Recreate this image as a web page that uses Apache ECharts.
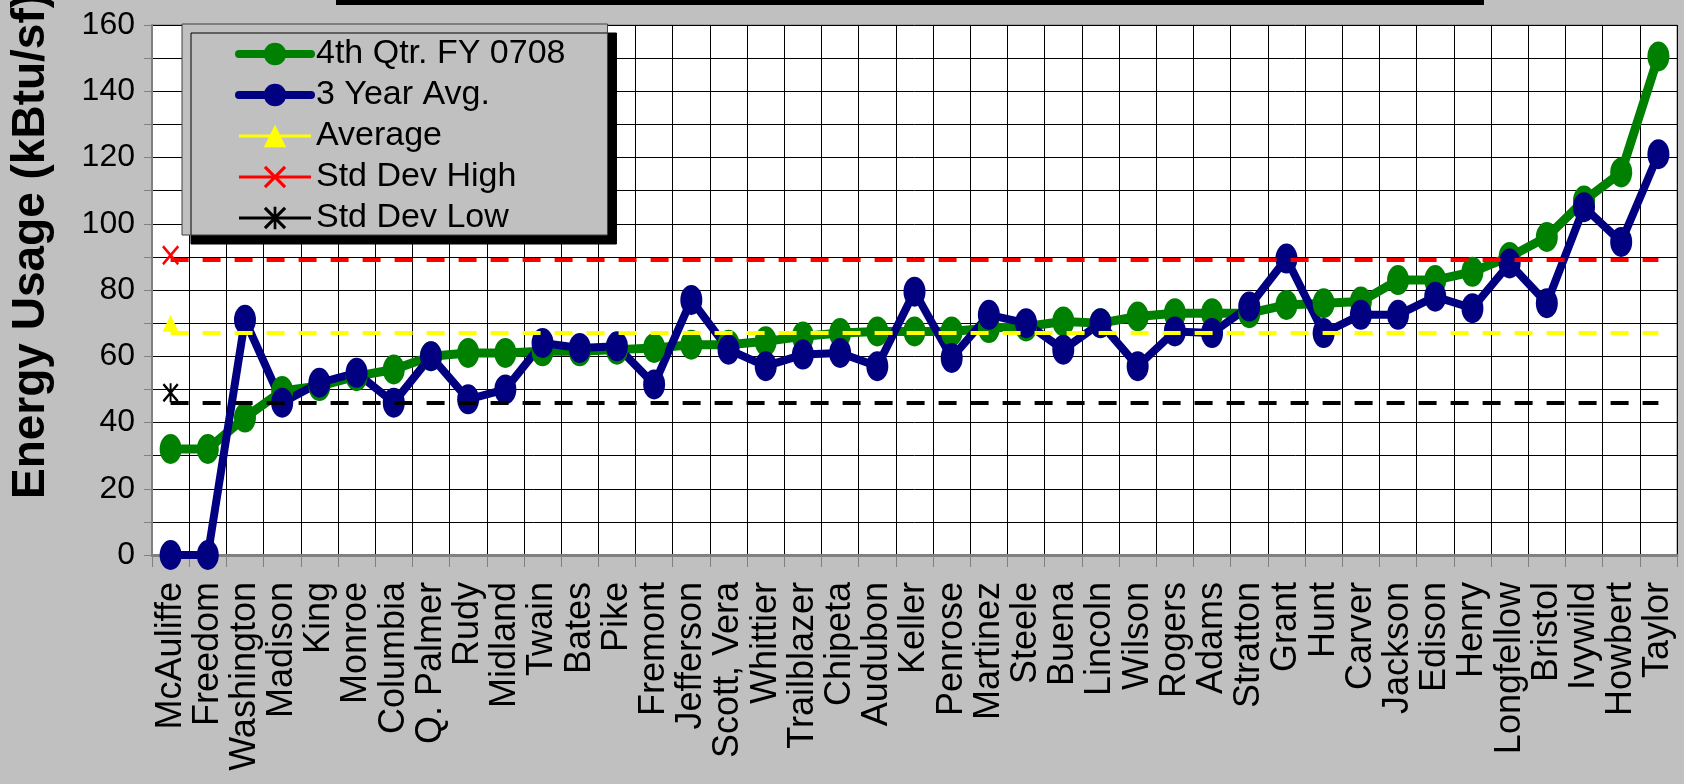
<!DOCTYPE html>
<html>
<head>
<meta charset="utf-8">
<script src="https://cdn.jsdelivr.net/npm/echarts@6/dist/echarts.min.js"></script>
<style>
  html, body { margin: 0; padding: 0; background: #c0c0c0; }
  #chartLine { width: 1684px; height: 784px; }
</style>
</head>
<body>
<div id="chartLine"></div>
<script>
// schools, sorted by this quarter's usage
const schools = ["McAuliffe", "Freedom", "Washington", "Madison", "King", "Monroe", "Columbia", "Q. Palmer", "Rudy", "Midland",
  "Twain", "Bates", "Pike", "Fremont", "Jefferson", "Scott, Vera", "Whittier", "Trailblazer", "Chipeta", "Audubon",
  "Keller", "Penrose", "Martinez", "Steele", "Buena", "Lincoln", "Wilson", "Rogers", "Adams", "Stratton",
  "Grant", "Hunt", "Carver", "Jackson", "Edison", "Henry", "Longfellow", "Bristol", "Ivywild", "Howbert", "Taylor"];

const qtrUsage = [32, 32, 41.5, 49.5, 51, 54, 56, 60, 61, 61,
  61.5, 61.5, 62, 62.5, 63.5, 63.5, 64.5, 66, 67, 67.5,
  67.5, 67.5, 68.5, 69, 70.5, 70, 72, 73, 73, 73,
  75.5, 76, 76.5, 83, 83, 85.5, 90, 96, 107, 115.5, 150.5];

const threeYearAvg = [0, 0, 71, 46, 52, 55, 46, 60, 47, 50,
  64, 62.5, 63, 51.5, 77, 62, 57, 60.5, 61, 57,
  79.5, 59.5, 72.5, 70, 62, 70, 57, 67.5, 67, 75,
  89.5, 67, 72.5, 72.5, 78, 74.5, 88, 76, 105, 94.5, 121];

// reference levels and the single marker drawn at the first school
const avgLevel = 67, highLevel = 89, lowLevel = 46;
const avgMarker = [70];
const highMarker = [90.5];
const lowMarker = [49];

const yTicks = [0, 20, 40, 60, 80, 100, 120, 140, 160];

const sans = "'Liberation Sans', Arial, sans-serif";
const ellipse = "path://M0,15 A11,15 0 1,1 22,15 A11,15 0 1,1 0,15 Z";
const cross = "path://M0,1 L1,0 L5,4 L9,0 L10,1 L6,5 L10,9 L9,10 L5,6 L1,10 L0,9 L4,5 Z";
const star = "path://M0,1 L1,0 L5,4 L9,0 L10,1 L6,5 L10,9 L9,10 L5,6 L1,10 L0,9 L4,5 Z M4.4,0 L5.6,0 L5.6,10 L4.4,10 Z";

function refLine(color, level, endIdx) {
  return {
    silent: true,
    symbol: "none",
    label: {show: false},
    lineStyle: {color: color, width: 4, type: [18, 14]},
    data: [[{coord: [0, level]}, {coord: [endIdx, level]}]]
  };
}

const chart = echarts.init(document.getElementById("chartLine"));
chart.setOption({
  animation: false,
  backgroundColor: "#c0c0c0",
  grid: {
    left: 152,
    right: 7,
    top: 25,
    bottom: 229,
    show: true,
    backgroundColor: "#fff",
    borderColor: "#808080",
    borderWidth: 1
  },
  legend: {
    orient: "vertical",
    left: 182,
    top: 24,
    padding: [13, 42, 0, 53],
    itemGap: 7,
    itemWidth: 72,
    itemHeight: 28,
    selectedMode: false,
    backgroundColor: "#c0c0c0",
    borderColor: "#404040",
    borderWidth: 1,
    shadowColor: "#000",
    shadowBlur: 0,
    shadowOffsetX: 9,
    shadowOffsetY: 9,
    textStyle: {fontSize: 34, fontFamily: sans, color: "#000"},
    data: [
      {name: "4th Qtr. FY 0708", lineStyle: {width: 8, cap: "round"}},
      {name: "3 Year Avg.", lineStyle: {width: 8, cap: "round"}},
      {name: "Average", lineStyle: {width: 3}},
      {name: "Std Dev High", lineStyle: {width: 3}},
      {name: "Std Dev Low", lineStyle: {width: 3}}
    ]
  },
  xAxis: {
    type: "category",
    data: schools,
    boundaryGap: true,
    axisLine: {lineStyle: {color: "#808080", width: 3}},
    axisTick: {show: true, interval: 0, length: 12, lineStyle: {color: "#808080"}},
    axisLabel: {interval: 0, rotate: 90, fontSize: 36, fontFamily: sans, color: "#000", margin: 27},
    splitLine: {show: true, interval: 0, lineStyle: {color: "#000", width: 1}}
  },
  yAxis: {
    type: "value",
    min: 0,
    max: 160,
    interval: 10,
    axisLine: {show: true, lineStyle: {color: "#808080", width: 2}},
    axisTick: {show: true, length: 8, lineStyle: {color: "#808080"}},
    axisLabel: {
      fontSize: 32,
      fontFamily: sans,
      color: "#000",
      margin: 17,
      formatter: v => (yTicks.indexOf(v) > -1 ? String(v) : "")
    },
    splitLine: {show: true, lineStyle: {color: "#000", width: 1}}
  },
  graphic: [
    {type: "rect", shape: {x: 336, y: 0, width: 1148, height: 5}, style: {fill: "#000"}},
    {
      type: "text",
      x: 31,
      y: 246,
      rotation: Math.PI / 2,
      style: {
        text: "Energy Usage (kBtu/sf)",
        fontSize: 46,
        fontWeight: "bold",
        fontFamily: sans,
        fill: "#000",
        align: "center",
        textAlign: "center",
        verticalAlign: "middle",
        textVerticalAlign: "middle"
      }
    }
  ],
  series: [
    {
      name: "4th Qtr. FY 0708",
      type: "line",
      data: qtrUsage,
      symbol: ellipse,
      symbolSize: [22, 30],
      showAllSymbol: true,
      lineStyle: {color: "#008000", width: 9},
      itemStyle: {color: "#008000"}
    },
    {
      name: "3 Year Avg.",
      type: "line",
      data: threeYearAvg,
      symbol: ellipse,
      symbolSize: [22, 30],
      showAllSymbol: true,
      lineStyle: {color: "#000080", width: 8},
      itemStyle: {color: "#000080"}
    },
    {
      name: "Average",
      type: "line",
      data: avgMarker,
      symbol: "triangle",
      symbolSize: [16, 17],
      lineStyle: {color: "#ffff00", width: 3},
      itemStyle: {color: "#ffff00"},
      markLine: refLine("#ffff00", avgLevel, 40)
    },
    {
      name: "Std Dev High",
      type: "line",
      data: highMarker,
      symbol: cross,
      symbolSize: [17, 20],
      lineStyle: {color: "#ff0000", width: 3},
      itemStyle: {color: "#ff0000"},
      markLine: refLine("#ff0000", highLevel, 39.5)
    },
    {
      name: "Std Dev Low",
      type: "line",
      data: lowMarker,
      symbol: star,
      symbolSize: [16, 19],
      lineStyle: {color: "#000", width: 3},
      itemStyle: {color: "#000"},
      markLine: refLine("#000", lowLevel, 39.5)
    }
  ]
});
</script>
</body>
</html>
